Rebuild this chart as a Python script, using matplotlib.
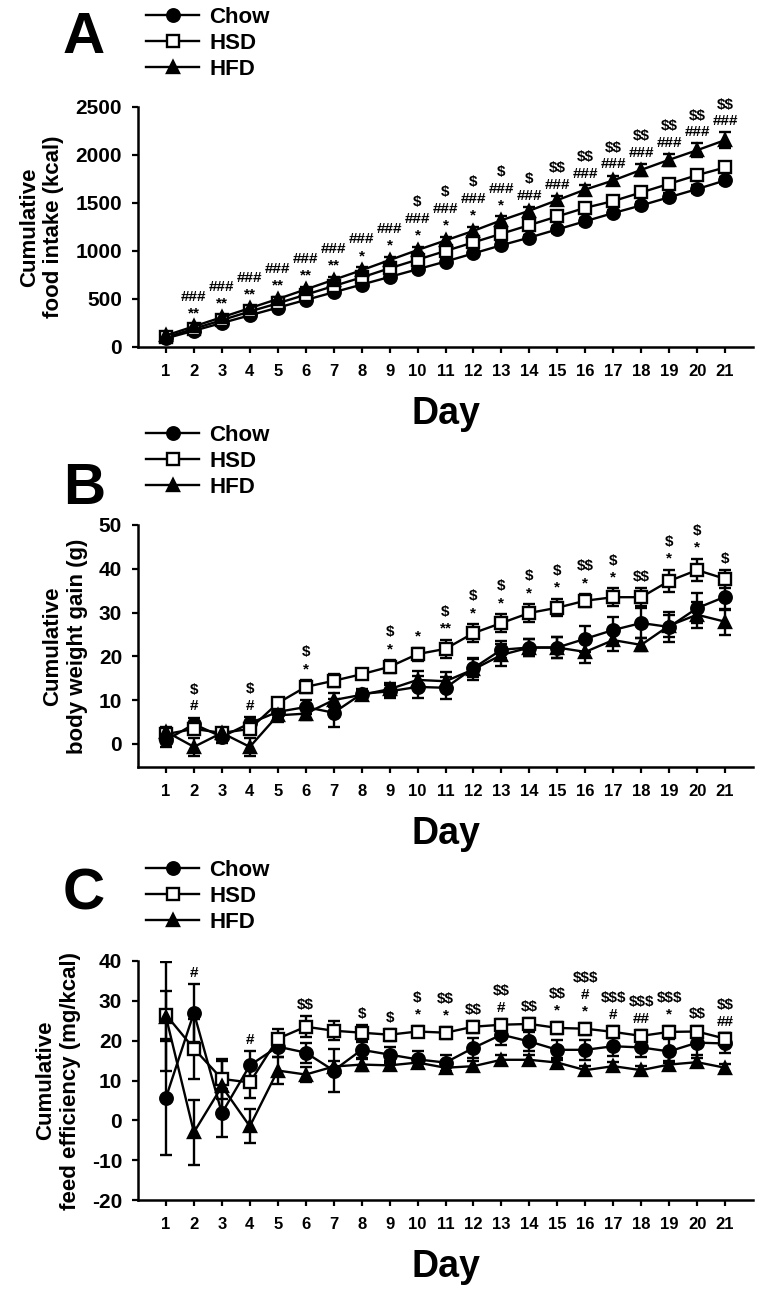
import numpy as np
import matplotlib
matplotlib.use('Agg')
import matplotlib.pyplot as plt
from matplotlib.lines import Line2D

plt.rcParams['font.family'] = ['Liberation Sans', 'DejaVu Sans']
plt.rcParams['font.weight'] = 'bold'
plt.rcParams['axes.unicode_minus'] = False

days = list(range(1, 22))
groups = ['Chow', 'HSD', 'HFD']

# A: cumulative food intake (kcal)
a_chow = [90, 170, 250, 330, 410, 490, 570, 650, 730, 810, 890, 975, 1060, 1140, 1225, 1310, 1395, 1475, 1560, 1645, 1735]
a_hsd = [100, 190, 280, 370, 455, 545, 635, 725, 820, 910, 1000, 1090, 1180, 1270, 1360, 1450, 1520, 1610, 1700, 1790, 1870]
a_hfd = [120, 215, 310, 405, 500, 600, 700, 800, 905, 1010, 1110, 1210, 1320, 1420, 1530, 1640, 1735, 1845, 1950, 2050, 2155]
a_chow_err = [20, 20, 20, 20, 20, 25, 25, 25, 25, 30, 30, 30, 30, 30, 35, 35, 35, 35, 40, 40, 40]
a_hsd_err = [15, 15, 20, 20, 20, 20, 25, 25, 25, 25, 30, 30, 30, 30, 30, 35, 35, 35, 35, 40, 40]
a_hfd_err = [20, 20, 25, 25, 25, 30, 30, 30, 35, 35, 35, 40, 40, 40, 40, 45, 50, 60, 60, 70, 80]
a_notes = ['', '###\n**', '###\n**', '###\n**', '###\n**', '###\n**', '###\n**', '###\n*', '###\n*',
           '$\n###\n*', '$\n###\n*', '$\n###\n*', '$\n###\n*', '$\n###', '$$\n###', '$$\n###',
           '$$\n###', '$$\n###', '$$\n###', '$$\n###', '$$\n###']

# B: cumulative body weight gain (g)
b_chow = [0.8, 4.5, 1.6, 4.7, 7.3, 8.4, 7.1, 11.4, 12.0, 13.0, 12.8, 17.3, 21.5, 22.0, 22.0, 24.0, 26.0, 27.6, 26.7, 31.0, 33.6]
b_hsd = [2.2, 3.4, 2.5, 3.4, 9.3, 13.0, 14.4, 15.9, 17.6, 20.5, 21.7, 25.3, 27.6, 29.9, 31.1, 32.7, 33.5, 33.5, 37.2, 39.7, 37.7]
b_hfd = [2.8, -0.7, 2.5, -0.7, 6.5, 6.9, 10.0, 11.2, 12.5, 14.6, 14.3, 17.0, 20.3, 22.0, 22.0, 21.0, 23.7, 22.6, 27.0, 29.5, 27.9]
b_chow_err = [1.5, 1.5, 1.5, 1.5, 1.5, 1.5, 3.2, 1.2, 1.5, 2.5, 2.5, 2.0, 2.0, 2.0, 2.5, 3.0, 3.0, 3.5, 3.5, 3.5, 3.0]
b_hsd_err = [1.0, 1.0, 1.0, 1.0, 1.0, 1.5, 1.5, 1.0, 1.5, 1.5, 2.0, 2.0, 2.0, 2.0, 2.0, 1.5, 2.0, 2.0, 2.5, 2.5, 2.0]
b_hfd_err = [1.0, 2.0, 1.0, 2.0, 1.5, 1.5, 1.5, 1.0, 1.5, 2.0, 2.0, 2.5, 2.5, 2.0, 2.5, 2.5, 2.5, 1.5, 2.5, 3.0, 3.0]
b_notes = ['', '$\n#', '', '$\n#', '', '$\n*', '', '', '$\n*', '*', '$\n**', '$\n*', '$\n*', '$\n*',
           '$\n*', '$$\n*', '$\n*', '$$', '$\n*', '$\n*', '$']

# C: cumulative feed efficiency (mg/kcal)
c_chow = [5.7, 27.0, 1.8, 13.8, 18.5, 17.0, 12.5, 17.7, 16.5, 15.3, 14.5, 18.2, 21.5, 19.8, 17.7, 17.7, 18.6, 18.3, 17.3, 19.5, 19.3]
c_hsd = [26.5, 18.0, 10.4, 9.5, 20.5, 23.5, 22.5, 22.0, 21.5, 22.3, 22.0, 23.5, 24.0, 24.2, 23.2, 23.0, 22.2, 21.2, 22.2, 22.3, 20.5]
c_hfd = [26.0, -3.0, 8.5, -1.5, 12.5, 11.5, 13.5, 14.0, 13.8, 14.5, 13.2, 13.6, 15.2, 15.2, 14.5, 12.6, 13.6, 12.6, 14.0, 14.6, 13.2]
c_chow_err = [14.3, 7.3, 6.0, 3.5, 2.5, 2.5, 5.5, 2.0, 2.0, 2.0, 2.0, 2.5, 2.5, 2.5, 2.5, 2.5, 2.5, 2.5, 3.0, 3.0, 2.5]
c_hsd_err = [6.0, 7.5, 5.0, 4.0, 2.5, 2.7, 2.4, 2.0, 1.5, 1.5, 1.5, 1.5, 1.5, 1.5, 1.5, 1.5, 1.5, 1.5, 1.5, 1.5, 1.5]
c_hfd_err = [13.7, 8.2, 6.5, 4.3, 3.5, 2.0, 1.5, 1.5, 1.2, 1.2, 1.2, 1.2, 1.2, 1.2, 1.2, 1.0, 1.0, 1.0, 1.0, 1.0, 1.0]
c_notes = ['', '#', '', '#', '', '$$', '', '$', '$', '$\n*', '$$\n*', '$$', '$$\n#', '$$', '$$\n*',
           '$$$\n#\n*', '$$$\n#', '$$$\n##', '$$$\n*', '$$', '$$\n##']

markers = {'Chow': dict(marker='o', markersize=9, markerfacecolor='black'),
           'HSD': dict(marker='s', markersize=8, markerfacecolor='white'),
           'HFD': dict(marker='^', markersize=9, markerfacecolor='black')}

fig = plt.figure(figsize=(7.8, 12.96), dpi=100)
W, H = 780, 1296


def px_axes(left, top, right, bottom):
    return fig.add_axes([left / W, 1 - bottom / H, (right - left) / W, (bottom - top) / H])


panels = [
    ('A', px_axes(138, 107, 753, 347), [a_chow, a_hsd, a_hfd], [a_chow_err, a_hsd_err, a_hfd_err],
     a_notes, (0, 2500), [0, 500, 1000, 1500, 2000, 2500], 'Cumulative\nfood intake (kcal)', 38, 7),
    ('B', px_axes(138, 525, 753, 767), [b_chow, b_hsd, b_hfd], [b_chow_err, b_hsd_err, b_hfd_err],
     b_notes, (-5.3, 50), [0, 10, 20, 30, 40, 50], 'Cumulative\nbody weight gain (g)', 489, 425),
    ('C', px_axes(138, 961, 753, 1200), [c_chow, c_hsd, c_hfd], [c_chow_err, c_hsd_err, c_hfd_err],
     c_notes, (-20, 40), [-20, -10, 0, 10, 20, 30, 40], 'Cumulative\nfeed efficiency (mg/kcal)', 895, 860),
]

for letter, ax, series, errs, notes, ylim, yticks, ylabel, letter_y, leg_top in panels:
    for name, vals, err in zip(groups, series, errs):
        ax.errorbar(days, vals, yerr=err, color='black', lw=1.7, capsize=4, capthick=1.7,
                    elinewidth=1.7, markeredgecolor='black', markeredgewidth=1.7,
                    zorder=3, **markers[name])

    # significance marks sit just above the highest error bar of each day
    tops = np.max(np.array(series) + np.array(errs), axis=0)
    for d, t, note in zip(days, tops, notes):
        if note:
            ax.annotate(note, xy=(d, t), xytext=(0, 3), textcoords='offset points',
                        ha='center', va='bottom', fontsize=11, fontweight='bold',
                        linespacing=1.25, multialignment='center', parse_math=False,
                        annotation_clip=False)

    ax.set_xlim(0, 22)
    ax.set_ylim(*ylim)
    ax.set_xticks(days)
    ax.set_yticks(yticks)
    ax.spines['top'].set_visible(False)
    ax.spines['right'].set_visible(False)
    ax.spines['left'].set_linewidth(1.8)
    ax.spines['bottom'].set_linewidth(1.8)
    ax.tick_params(axis='x', labelsize=12, length=4.5, width=1.6, pad=8)
    ax.tick_params(axis='y', labelsize=15, length=4.5, width=1.6, pad=7)
    for lab in ax.get_xticklabels() + ax.get_yticklabels():
        lab.set_fontweight('bold')
    ax.set_xlabel('Day', fontsize=27, fontweight='bold', labelpad=12)
    ax.set_ylabel(ylabel, fontsize=16, fontweight='bold', labelpad=8)

    fig.text(84 / W, 1 - letter_y / H, letter, fontsize=42, fontweight='bold', ha='center', va='center')
    handles = [Line2D([], [], color='black', lw=1.7, markeredgecolor='black',
                      markeredgewidth=1.7, **markers[name]) for name in groups]
    fig.legend(handles=handles, labels=groups, loc='upper left',
               bbox_to_anchor=(146 / W, 1 - leg_top / H), frameon=False,
               handlelength=2.4, handletextpad=0.45, labelspacing=0.22, borderpad=0,
               borderaxespad=0, prop={'weight': 'bold', 'size': 16})

fig.savefig('out.png', dpi=100)
